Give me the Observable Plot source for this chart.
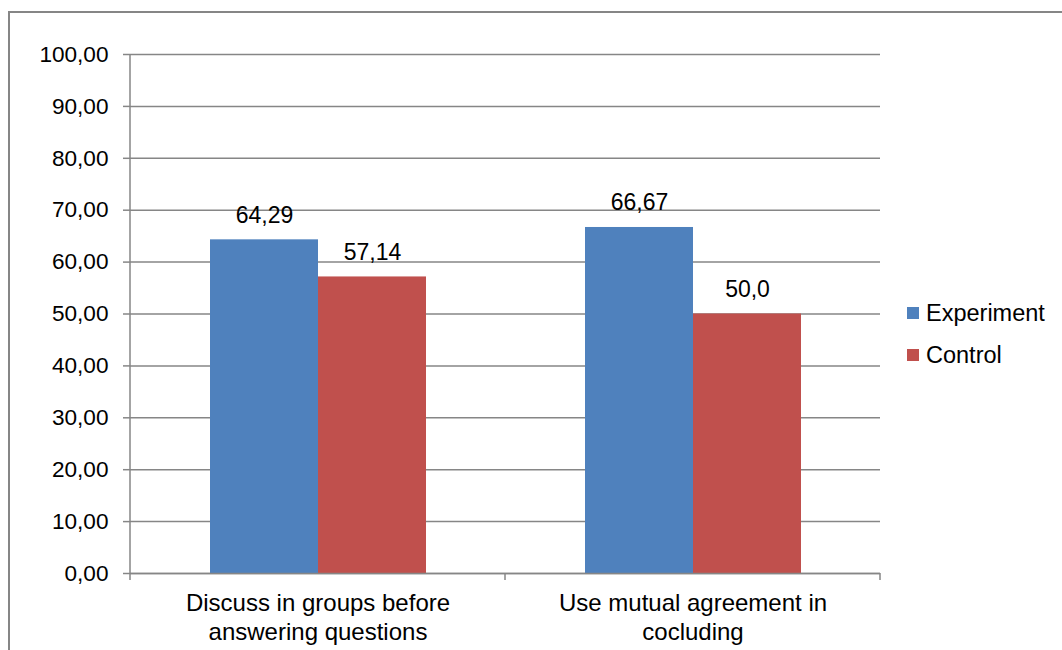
<!DOCTYPE html>
<html>
<head>
<meta charset="utf-8">
<script src="https://cdn.jsdelivr.net/npm/d3@7"></script>
<script src="https://cdn.jsdelivr.net/npm/@observablehq/plot@0.6"></script>
<style>
  html, body { margin: 0; padding: 0; background: #fff; overflow: hidden; }
  #wrap { position: relative; width: 1062px; height: 650px; overflow: hidden;
          font-family: "Liberation Sans", Arial, sans-serif; }
  #border { position: absolute; left: 8px; top: 11px; width: 1200px; height: 800px;
            border: 2px solid #868686; box-sizing: border-box; }
  #chart { position: absolute; left: 0; top: 0; }
  .legend { position: absolute; left: 907px; font-size: 23.5px; color: #000; }
  .legend .item { position: absolute; left: 0; display: flex; align-items: center; white-space: nowrap; height: 26px; }
  .legend .sw { width: 12px; height: 12px; margin-right: 7px; }
</style>
</head>
<body>
<div id="wrap">
  <div id="border"></div>
  <div id="chart"></div>
  <div class="legend" id="legend"></div>
</div>
<script>
// Share of students per behaviour, by group
const categories = ["Discuss in groups before\nanswering questions", "Use mutual agreement in\ncocluding"];
const series = ["Experiment", "Control"];
const experimentValues = [64.29, 66.67];
const controlValues = [57.14, 50.0];
const experimentLabels = ["64,29", "66,67"];
const controlLabels = ["57,14", "50,0"];
const yTicks = [0, 10, 20, 30, 40, 50, 60, 70, 80, 90, 100];
const colors = ["#4F81BD", "#C0504D"];

const rows = [];
categories.forEach((c, i) => {
  rows.push({category: c, series: series[0], value: experimentValues[i], label: experimentLabels[i]});
  rows.push({category: c, series: series[1], value: controlValues[i], label: controlLabels[i]});
});

const W = 1062, H = 650;
const mL = 129, mR = 182, mT = 54, mB = 77;
const grey = "#868686";
const fmt = d => d.toFixed(2).replace(".", ",");

const chart = Plot.plot({
  width: W, height: H,
  marginLeft: mL, marginRight: mR, marginTop: mT, marginBottom: mB,
  style: {fontFamily: "'Liberation Sans', Arial, sans-serif", fontSize: "22px", color: "#000", background: "transparent"},
  fx: {domain: categories, padding: 0, label: null},
  x: {domain: series, paddingInner: 0, paddingOuter: 0.73, axis: null},
  y: {domain: [0, 100], axis: null},
  color: {domain: series, range: colors},
  marks: [
    Plot.ruleY(yTicks, {stroke: grey, strokeWidth: 1.5, strokeOpacity: 1}),
    Plot.barY(rows, {fx: "category", x: "series", y: "value", fill: "series"}),
    Plot.text(rows, {fx: "category", x: "series", y: "value", text: "label",
      lineAnchor: "bottom", dy: -17, fontSize: 23, fill: "#000"}),
    Plot.axisY(yTicks, {anchor: "left", tickFormat: fmt, tickSize: 7, tickPadding: 15,
      stroke: grey, strokeWidth: 1.5, fontSize: 22.6, fill: "#000", label: null}),
    Plot.axisFx({anchor: "bottom", tickSize: 0, tickPadding: 18, fontSize: 24,
      lineHeight: 1.17, fill: "#000", label: null}),
    Plot.ruleY([0], {stroke: grey, strokeWidth: 1.5})
  ]
});
document.getElementById("chart").appendChild(chart);

// left axis line and category boundary ticks, placed with the plot's scales
const fxs = chart.scale("fx");
const ys = chart.scale("y");
const svg = d3.select(chart.tagName.toLowerCase() === "svg" ? chart : chart.querySelector("svg"));
const y0 = ys.apply(0), y100 = ys.apply(100);
const bounds = [fxs.apply(categories[0]), ...categories.map(c => fxs.apply(c) + fxs.bandwidth)];
const g = svg.append("g").attr("stroke", grey).attr("stroke-width", 1.5);
g.append("line").attr("x1", bounds[0]).attr("x2", bounds[0]).attr("y1", y100).attr("y2", y0);
bounds.forEach(bx => g.append("line").attr("x1", bx).attr("x2", bx).attr("y1", y0).attr("y2", y0 + 7));

// legend
const legend = document.getElementById("legend");
const legendTops = [300, 342];
series.forEach((s, i) => {
  const item = document.createElement("div");
  item.className = "item";
  item.style.top = legendTops[i] + "px";
  const sw = document.createElement("span");
  sw.className = "sw";
  sw.style.background = colors[i];
  const t = document.createElement("span");
  t.textContent = s;
  item.appendChild(sw);
  item.appendChild(t);
  legend.appendChild(item);
});
</script>
</body>
</html>
